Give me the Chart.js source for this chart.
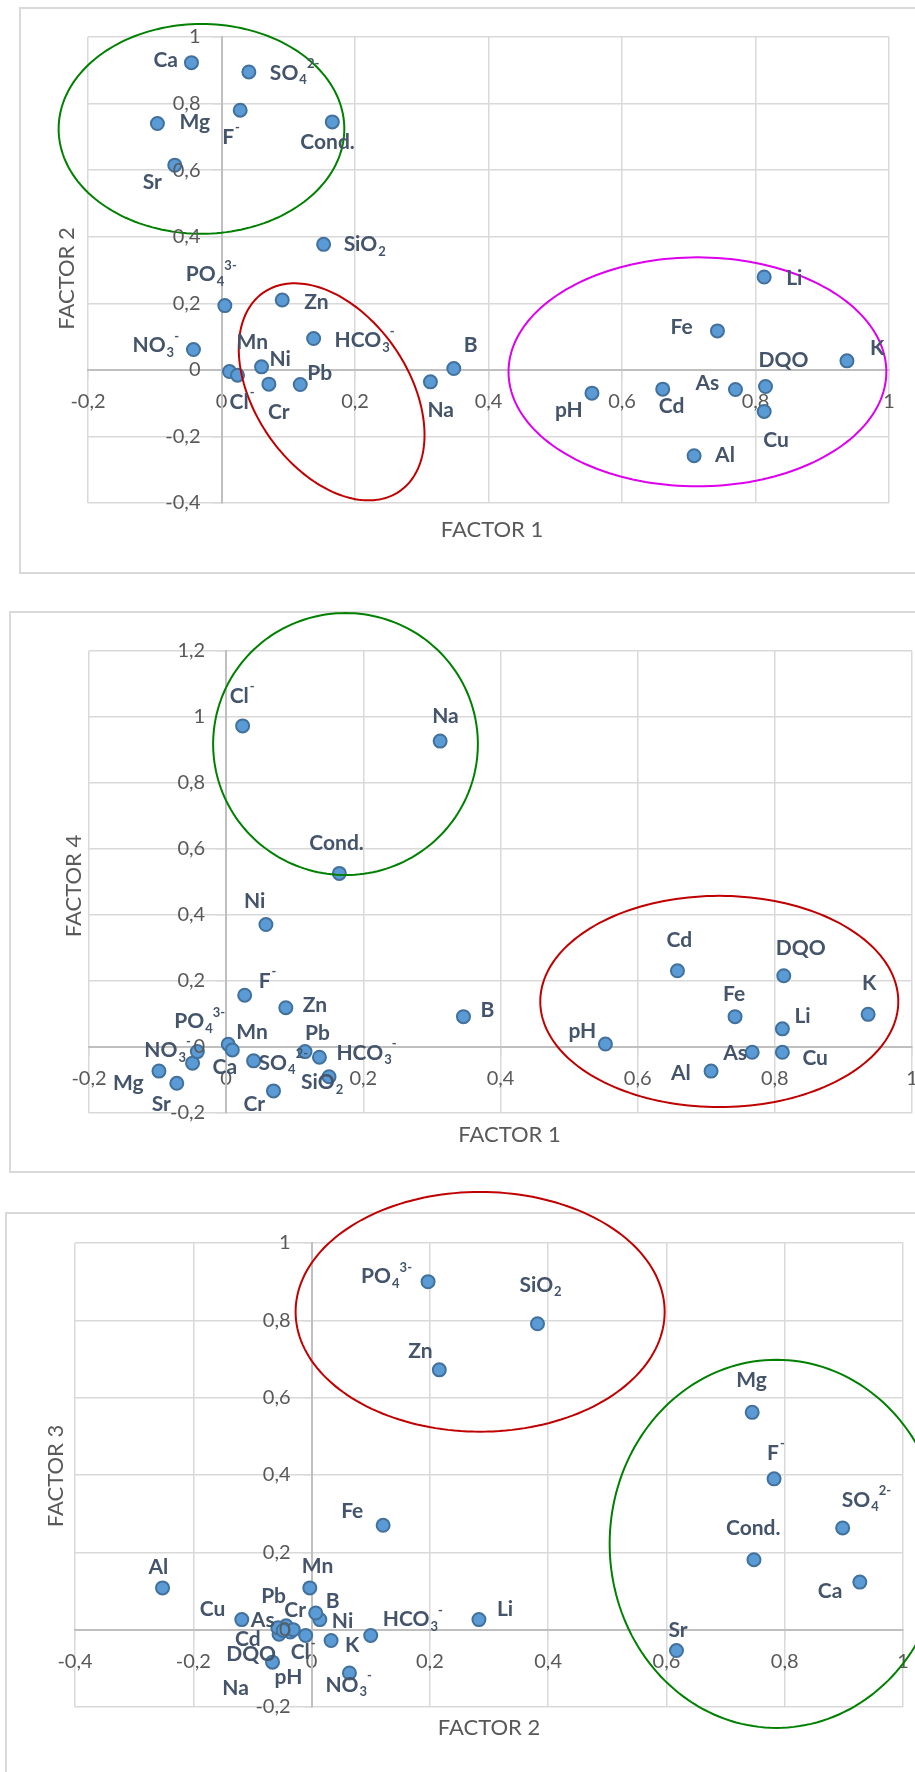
<!DOCTYPE html>
<html>
<head>
<meta charset="utf-8">
<script src="https://cdn.jsdelivr.net/npm/chart.js@4.4.1/dist/chart.umd.min.js"></script>
<style>
  html, body { margin: 0; padding: 0; background: #fff; overflow: hidden; }
  body { width: 915px; height: 1772px; position: relative; }
  .frame { position: absolute; border: 2px solid #d9d9d9; box-sizing: border-box; width: 1000px; }
  canvas { position: absolute; left: 0; }
</style>
</head>
<body>
<div class="frame" style="left:19px; top:7px; height:567px;"></div>
<div class="frame" style="left:9px; top:611px; height:562px;"></div>
<div class="frame" style="left:5px; top:1212px; height:700px;"></div>
<canvas id="c1" width="960" height="585" style="top:0px"></canvas>
<canvas id="c2" width="960" height="590" style="top:585px"></canvas>
<canvas id="c3" width="960" height="597" style="top:1175px"></canvas>
<script>
// parametros (_ = subindice, ^ = superindice)
const params = ['Ca', 'Mg', 'Sr', 'SO_4^2-', 'F^-', 'Cond.', 'SiO_2', 'PO_4^3-', 'Zn', 'HCO_3^-',
  'NO_3^-', 'Mn', 'Ni', 'Cl^-', 'Cr', 'Pb', 'Na', 'B', 'Li', 'Fe', 'K', 'pH', 'Cd', 'As', 'DQO', 'Cu', 'Al'];

// grafico 1: factor 1 vs factor 2
const f1A = [-0.045, -0.096, -0.070, 0.041, 0.028, 0.166, 0.153, 0.005, 0.091, 0.138,
  -0.042, 0.012, 0.060, 0.024, 0.071, 0.118, 0.313, 0.348, 0.813, 0.743, 0.937, 0.555, 0.661, 0.770, 0.815, 0.813, 0.708];
const f2A = [0.923, 0.740, 0.615, 0.895, 0.780, 0.745, 0.377, 0.193, 0.210, 0.094,
  0.061, -0.005, 0.009, -0.016, -0.043, -0.044, -0.036, 0.004, 0.279, 0.117, 0.027, -0.070, -0.058, -0.059, -0.050, -0.125, -0.258];

// grafico 2: factor 1 vs factor 4
const f1B = [-0.049, -0.098, -0.072, 0.040, 0.027, 0.165, 0.150, 0.003, 0.087, 0.136,
  -0.042, 0.009, 0.058, 0.024, 0.069, 0.115, 0.312, 0.346, 0.811, 0.742, 0.936, 0.553, 0.658, 0.767, 0.813, 0.811, 0.707];
const f4B = [-0.049, -0.073, -0.110, -0.042, 0.157, 0.526, -0.090, 0.008, 0.119, -0.031,
  -0.014, -0.009, 0.371, 0.973, -0.133, -0.014, 0.927, 0.092, 0.055, 0.092, 0.099, 0.009, 0.231, -0.016, 0.216, -0.016, -0.073];

// grafico 3: factor 2 vs factor 3
const f2C = [0.927, 0.745, 0.617, 0.898, 0.782, 0.748, 0.382, 0.197, 0.216, 0.100,
  0.064, -0.003, 0.014, -0.010, -0.036, -0.043, -0.031, 0.007, 0.283, 0.121, 0.033, -0.066, -0.055, -0.057, -0.048, -0.118, -0.252];
const f3C = [0.123, 0.562, -0.054, 0.263, 0.390, 0.181, 0.791, 0.900, 0.672, -0.015,
  -0.112, 0.108, 0.026, -0.015, -0.006, 0.010, 0.000, 0.043, 0.026, 0.270, -0.028, -0.084, -0.012, 0.005, -0.002, 0.026, 0.108];

// elipses de agrupamiento (centro, semiejes en unidades de los factores)
const groupsA = [
  { c: [-0.030, 0.724], u: [0.214, 0], v: [0, 0.315], color: '#008000' },
  { c: [0.165, -0.066], u: [0.1016, -0.299], v: [-0.0951, -0.130], color: '#c00000' },
  { c: [0.713, -0.006], u: [0.283, 0], v: [0, 0.344], color: '#dc00ee' }
];
const groupsB = [
  { c: [0.174, 0.918], u: [0.193, 0], v: [0, 0.397], color: '#008000' },
  { c: [0.719, 0.138], u: [0.261, 0], v: [0, 0.320], color: '#c00000' }
];
const groupsC = [
  { c: [0.285, 0.822], u: [0.312, 0], v: [0, 0.310], color: '#c00000' },
  { c: [0.786, 0.222], u: [0.282, 0], v: [0, 0.476], color: '#008000' }
];

// posicion de las etiquetas respecto al punto (px)
const offA = [[-38, -2], [22, -1], [-32, 17], [21, 1], [-18, 27], [-32, 20], [20, 0], [-39, -31], [22, 2], [21, 2],
  [-61, -4], [7, -29], [8, -8], [-8, 27], [-1, 28], [7, -11], [-3, 28], [10, -23], [22, 1], [-47, -4], [23, -13],
  [-37, 17], [-4, 17], [-40, -6], [-7, -26], [-1, 29], [21, 0]];
const offB = [[20, 4], [-46, 12], [-25, 21], [5, 2], [14, -14], [-30, -30], [-28, 6], [-54, -23], [17, -2], [17, -4],
  [-53, -1], [4, -18], [-22, -23], [-13, -30], [-30, 13], [0, -18], [-8, -25], [17, -6], [12, -13], [-12, -22], [-6, -31],
  [-37, -13], [-11, -31], [-29, 1], [-8, -27], [20, 6], [-40, 2]];
const offC = [[-42, 9], [-16, -32], [-8, -20], [-1, -28], [-7, -26], [-28, -31], [-18, -39], [-67, -5], [-31, -19], [12, -16],
  [-24, 12], [-8, -22], [12, 2], [-15, 17], [-6, -22], [-25, -30], [-71, 59], [10, -12], [18, -10], [-42, -14], [14, 5],
  [2, 15], [-44, 5], [-27, -7], [-57, 24], [-42, -10], [-14, -21]];

const fmt = v => String(Math.round(v * 10) / 10).replace('.', ',');

function drawLabel(ctx, text, x, y) {
  const m = text.match(/^([^_^]*)(?:_(\d+))?(?:\^(.+))?$/);
  ctx.textAlign = 'left';
  ctx.textBaseline = 'middle';
  ctx.font = 'bold 21px Lato';
  ctx.fillText(m[1], x, y);
  let cx = x + ctx.measureText(m[1]).width + 1;
  ctx.font = 'bold 13px Lato';
  if (m[2]) {
    ctx.fillText(m[2], cx, y + 7);
    cx += ctx.measureText(m[2]).width;
  }
  if (m[3]) {
    ctx.fillText(m[3], cx, y - 9);
  }
}

const decor = {
  id: 'decor',
  afterDatasetsDraw(chart, args, opts) {
    const { ctx, chartArea, scales: { x, y } } = chart;
    ctx.save();
    opts.groups.forEach(e => {
      ctx.beginPath();
      for (let k = 0; k <= 180; k++) {
        const t = k / 180 * Math.PI * 2;
        const px = x.getPixelForValue(e.c[0] + e.u[0] * Math.cos(t) + e.v[0] * Math.sin(t));
        const py = y.getPixelForValue(e.c[1] + e.u[1] * Math.cos(t) + e.v[1] * Math.sin(t));
        if (k === 0) ctx.moveTo(px, py); else ctx.lineTo(px, py);
      }
      ctx.closePath();
      ctx.strokeStyle = e.color;
      ctx.lineWidth = 2;
      ctx.stroke();
    });

    // etiquetas del eje Y, junto al eje vertical en x = 0
    ctx.fillStyle = '#595959';
    ctx.font = '20px Lato';
    ctx.textAlign = 'right';
    ctx.textBaseline = 'middle';
    const axisX = x.getPixelForValue(0);
    y.ticks.forEach(t => {
      ctx.fillText(fmt(t.value), axisX - 21, y.getPixelForValue(t.value));
    });

    ctx.fillStyle = '#44546a';
    chart.getDatasetMeta(0).data.forEach((pt, i) => {
      drawLabel(ctx, params[i], pt.x + opts.offsets[i][0], pt.y + opts.offsets[i][1]);
    });

    ctx.fillStyle = '#595959';
    ctx.font = '22px Lato';
    ctx.textAlign = 'center';
    ctx.textBaseline = 'middle';
    ctx.fillText(opts.xTitle[0], (chartArea.left + chartArea.right) / 2 + opts.xTitle[1], chartArea.bottom + opts.xTitle[2]);
    ctx.translate(chartArea.left + opts.yTitle[1], (chartArea.top + chartArea.bottom) / 2 + opts.yTitle[2]);
    ctx.rotate(-Math.PI / 2);
    ctx.fillText(opts.yTitle[0], 0, 0);
    ctx.restore();
  }
};

function axis(min, max, pos, showTicks) {
  return {
    type: 'linear',
    min: min,
    max: max,
    position: pos,
    ticks: {
      display: showTicks,
      stepSize: 0.2,
      autoSkip: false,
      maxRotation: 0,
      padding: 12,
      color: '#595959',
      font: { family: 'Lato', size: 20 },
      callback: v => fmt(v)
    },
    grid: { color: '#d9d9d9', lineWidth: 1.5, tickLength: 8 },
    border: { color: '#bfbfbf', width: 2 }
  };
}

function makeChart(id, xs, ys, xr, yr, padding, groups, offsets, xTitle, yTitle) {
  const ctx = document.getElementById(id).getContext('2d');
  return new Chart(ctx, {
    type: 'scatter',
    data: {
      datasets: [{
        data: params.map((p, i) => ({ x: xs[i], y: ys[i] })),
        backgroundColor: '#5b9bd5',
        borderColor: '#41719c',
        borderWidth: 2,
        pointRadius: 6.5
      }]
    },
    options: {
      responsive: false,
      animation: false,
      layout: { padding: padding },
      scales: {
        x: axis(xr[0], xr[1], { y: 0 }, true),
        y: axis(yr[0], yr[1], { x: 0 }, false)
      },
      plugins: {
        legend: { display: false },
        tooltip: { enabled: false },
        decor: { groups: groups, offsets: offsets, xTitle: xTitle, yTitle: yTitle }
      }
    },
    plugins: [decor]
  });
}

makeChart('c1', f1A, f2A, [-0.2, 1], [-0.4, 1], { left: 88, top: 37, right: 71, bottom: 82 },
  groupsA, offA, ['FACTOR 1', 3.5, 27], ['FACTOR 2', -21, 8.5]);
makeChart('c2', f1B, f4B, [-0.2, 1], [-0.2, 1.2], { left: 89, top: 66, right: 48, bottom: 62 },
  groupsB, offB, ['FACTOR 1', 9, 22], ['FACTOR 4', -15, 4]);
makeChart('c3', f2C, f3C, [-0.4, 1], [-0.2, 1], { left: 75, top: 68, right: 57, bottom: 65 },
  groupsC, offC, ['FACTOR 2', 0, 21], ['FACTOR 3', -19, 1]);
</script>
</body>
</html>
